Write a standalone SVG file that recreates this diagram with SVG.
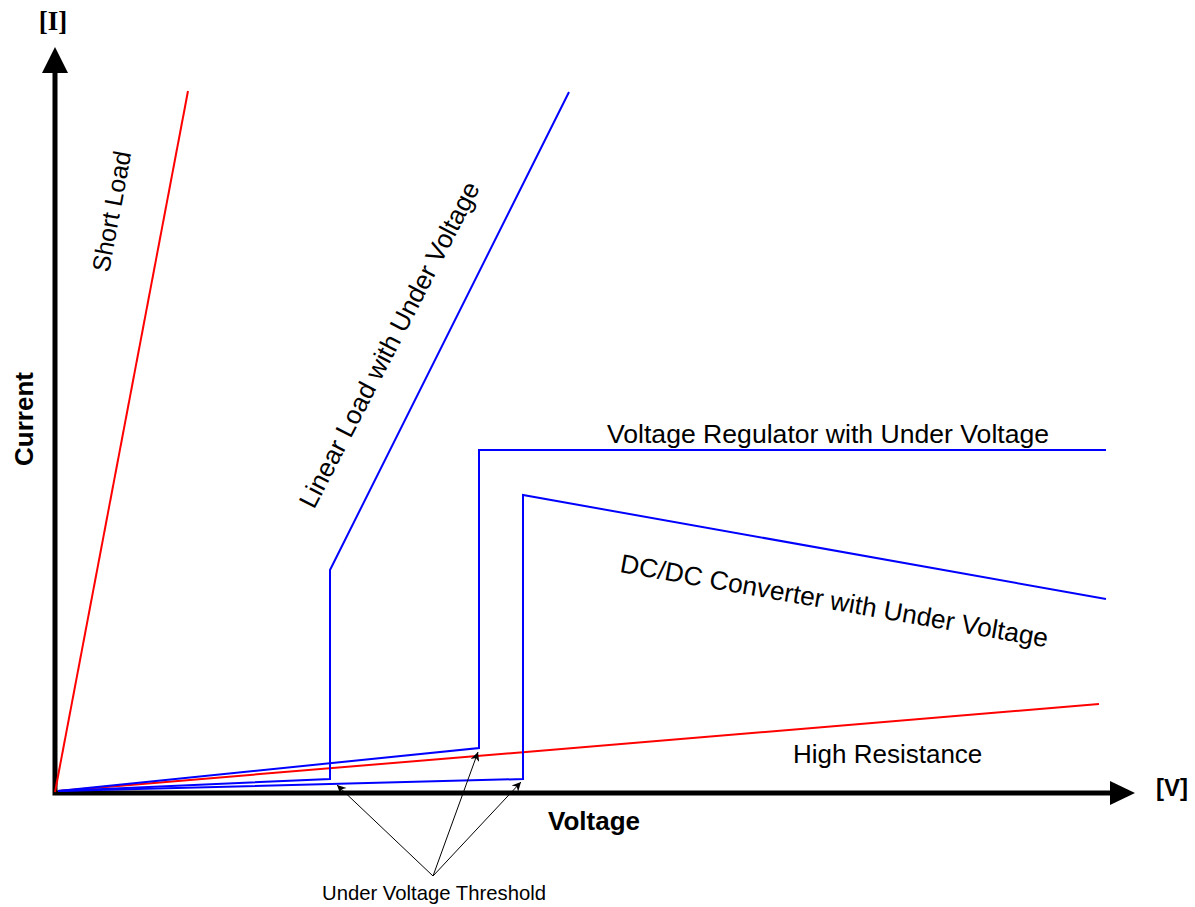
<svg xmlns="http://www.w3.org/2000/svg" width="1195" height="907" viewBox="0 0 1195 907">
<defs>
<style>
.t{font-family:"Liberation Sans",Arial,sans-serif;fill:#000}
.b{font-weight:bold}
.blue{fill:none;stroke:#0000ff;stroke-width:2}
.red{fill:none;stroke:#ff0000;stroke-width:2}
.axis{fill:none;stroke:#000;stroke-width:5}
.thin{fill:none;stroke:#000;stroke-width:1}
</style>
<marker id="ah" viewBox="0 0 10 10" refX="10" refY="5" markerWidth="11" markerHeight="9" markerUnits="userSpaceOnUse" orient="auto">
<path d="M0,0 L10,5 L0,10 L3,5 Z" fill="#000"/>
</marker>
</defs>
<rect width="1195" height="907" fill="#fff"/>

<g id="axes">
<path class="axis" d="M55,72 L55,793 L1112,793"/>
<polygon points="55,47 42,73 68,73" fill="#000"/>
<polygon points="1135,793 1110,781 1110,805" fill="#000"/>
<text class="t" x="53" y="30" text-anchor="middle" style="font-family:'Liberation Serif','Times New Roman',serif;font-weight:bold;font-size:27px">[I]</text>
<text class="t b" x="1172" y="796" text-anchor="middle" font-size="24">[V]</text>
<text class="t b" x="594" y="830" text-anchor="middle" font-size="26">Voltage</text>
<text class="t b" transform="translate(33,419) rotate(-90)" text-anchor="middle" font-size="26">Current</text>
</g>

<g id="short-load">
<path class="red" d="M55,792 L188,91"/>
<text class="t" transform="translate(109,273) rotate(-79.5)" font-size="25">Short Load</text>
</g>

<g id="high-resistance">
<path class="red" d="M58,791 L1099,704"/>
<text class="t" x="793" y="763" font-size="26">High Resistance</text>
</g>

<g id="linear-load">
<path class="blue" d="M58,791 L330,779 L330,570 L569,92"/>
<text class="t" transform="translate(314,510) rotate(-62.7)" font-size="26">Linear Load with Under Voltage</text>
</g>

<g id="voltage-regulator">
<path class="blue" d="M58,791 L479,748 L479,450 L1106,450"/>
<text class="t" x="607" y="443" font-size="26.6">Voltage Regulator with Under Voltage</text>
</g>

<g id="dcdc-converter">
<path class="blue" d="M58,791 L523,779 L523,495 L1106,599"/>
<text class="t" transform="translate(619,572) rotate(10)" font-size="26.3">DC/DC Converter with Under Voltage</text>
</g>

<g id="connectors">
<path class="thin" d="M433,876 L337,785" marker-end="url(#ah)"/>
<path class="thin" d="M433,876 L478,752" marker-end="url(#ah)"/>
<path class="thin" d="M433,876 L521,782" marker-end="url(#ah)"/>
</g>

<g id="threshold-label">
<text class="t" x="434" y="900" text-anchor="middle" font-size="20.3">Under Voltage Threshold</text>
</g>
</svg>
